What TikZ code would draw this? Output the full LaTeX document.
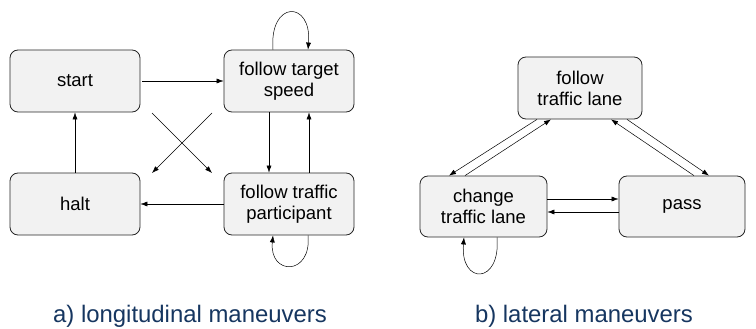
\documentclass[tikz,border=0pt]{standalone}
\usepackage{fontspec}
\setmainfont{Liberation Sans}
\usetikzlibrary{arrows.meta,calc}
\definecolor{capblue}{RGB}{22,54,96}
\definecolor{boxfill}{RGB}{242,242,242}
\begin{document}
\begin{tikzpicture}[x=1pt,y=-1pt,
  state/.style={draw=black!85,fill=boxfill,rounded corners=8pt,line width=0.8pt,
    align=center,inner sep=0pt,font=\fontsize{18.5}{21}\selectfont},
  conn/.style={line width=0.5pt,-{Latex[length=7pt,width=5pt]}},
  caption/.style={text=capblue,anchor=base,font=\fontsize{23.9}{26}\selectfont}]
\useasboundingbox (0,0) rectangle (756,329);
% left diagram
\node[state,minimum width=130pt,minimum height=62pt] (start) at (75,81) {start};
\node[state,minimum width=130pt,minimum height=62pt] (fts) at (289,81) {follow target\\speed};
\node[state,minimum width=130pt,minimum height=62pt] (halt) at (75,204) {halt};
\node[state,minimum width=130pt,minimum height=62pt] (ftp) at (289,204) {follow traffic\\participant};
\draw[conn,shorten <=2pt] (start.east) -- (fts.west);
\draw[conn] ([xshift=-20pt]fts.south) -- ([xshift=-20pt]ftp.north);
\draw[conn] ([xshift=20pt]ftp.north) -- ([xshift=20pt]fts.south);
\draw[conn] (ftp.west) -- (halt.east);
\draw[conn] (halt.north) -- (start.south);
\coordinate (c1s) at (152,113);
\coordinate (c1e) at (212,173);
\coordinate (c2s) at (212,113);
\coordinate (c2e) at (152,173);
\draw[conn] (c1s) -- (c1e);
\draw[conn] (c2s) -- (c2e);
\draw[conn] ([xshift=-16pt]fts.north) .. controls (269,0) and (312,0) .. ([xshift=19pt]fts.north);
\draw[conn] ([xshift=19pt]ftp.south) .. controls (312,276) and (269,276) .. ([xshift=-16pt]ftp.south);
% right diagram
\node[state,minimum width=124pt,minimum height=62pt] (ftl) at (580,88) {follow\\traffic lane};
\node[state,minimum width=127pt,minimum height=61pt] (ctl) at (483.5,206.5) {change\\traffic lane};
\node[state,minimum width=126pt,minimum height=61pt] (pass) at (682,206.5) {pass};
\draw[conn] ([xshift=-43pt]ftl.south) -- ([xshift=-34.5pt]ctl.north);
\draw[conn] ([xshift=-18.5pt]ctl.north) -- ([xshift=-29pt]ftl.south);
\draw[conn] ([xshift=47pt]ftl.south) -- ([xshift=27pt]pass.north);
\draw[conn] ([xshift=12pt]pass.north) -- ([xshift=31pt]ftl.south);
\draw[conn] ([yshift=7.5pt]ctl.east) -- ([yshift=7.5pt]pass.west);
\draw[conn] ([yshift=-5.5pt]pass.west) -- ([yshift=-5.5pt]ctl.east);
\draw[conn] ([xshift=13.5pt]ctl.south) .. controls (501,285) and (460,285) .. ([xshift=-19.5pt]ctl.south);
% captions
\node[caption] (capa) at (190,322) {a) longitudinal maneuvers};
\node[caption] (capb) at (584,322) {b) lateral maneuvers};
\end{tikzpicture}
\end{document}
